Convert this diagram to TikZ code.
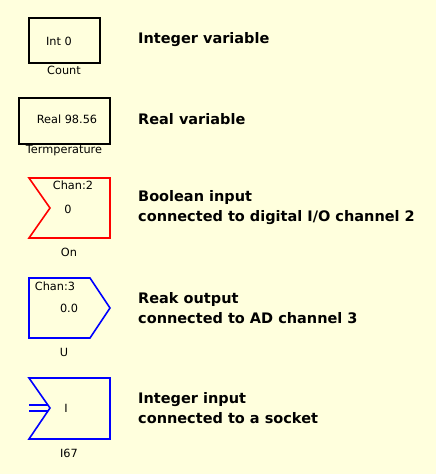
\documentclass[tikz,border=0pt]{standalone}
\usepackage{fontspec}
\setmainfont{DejaVu Sans}

\definecolor{bgyellow}{HTML}{FFFFDD}
\definecolor{chanred}{HTML}{FF0000}
\definecolor{chanblue}{HTML}{0000FF}

\begin{document}
\begin{tikzpicture}[x = 1pt, y = -1pt,
	frame/.style = {line width = 1.6pt, line join = miter},
	val/.style = {font = \fontsize{11.3}{13}\selectfont, inner sep = 0pt},
	tag/.style = {font = \fontsize{11.3}{13}\selectfont, inner sep = 0pt},
	desc/.style = {font = \fontsize{14.5}{20}\selectfont\bfseries, anchor = west, align = left, inner sep = 0pt}]

	\fill [bgyellow] (0, 0) rectangle (436, 474);

	% integer variable
	\draw [frame] (29, 18) rectangle (100, 63);
	\node [val] (intval) at (59, 41) {Int 0};
	\node [tag] (intname) at (64, 70) {Count};
	\node [desc] (intdesc) at (138, 40) {Integer variable};

	% real variable
	\draw [frame] (19, 98) rectangle (110, 144);
	\node [val] (realval) at (67, 119) {Real 98.56};
	\node [tag] (realname) at (64, 151) {Termperature};
	\node [desc] (realdesc) at (138, 119) {Real variable};

	% boolean input
	\draw [frame, chanred] (29, 178) -- (110, 178) -- (110, 238) -- (29, 238) -- (50, 208) -- cycle;
	\node [val] (boolchan) at (73, 185) {Chan:2};
	\node [val] (boolval) at (68, 209) {0};
	\node [tag] (boolname) at (69, 252) {On};
	\node [desc] (booldesc) at (138, 208) {Boolean input\\connected to digital I/O channel 2};

	% real output
	\draw [frame, chanblue] (29, 278) -- (90, 278) -- (110, 308) -- (90, 338) -- (29, 338) -- cycle;
	\node [val] (outchan) at (55, 286) {Chan:3};
	\node [val] (outval) at (69, 308) {0.0};
	\node [tag] (outname) at (64, 352) {U};
	\node [desc] (outdesc) at (138, 308) {Reak output\\connected to AD channel 3};

	% integer input
	\begin{scope}[chanblue]
		\draw [frame] (29, 378) -- (110, 378) -- (110, 439) -- (29, 439) -- (50, 408) -- cycle;
		\draw [line width = 1.3pt] (29, 405) -- (48, 405);
		\draw [line width = 1.3pt] (29, 411) -- (48, 411);
	\end{scope}
	\node [val] (sockval) at (66, 408) {I};
	\node [tag] (sockname) at (69, 453) {I67};
	\node [desc] (sockdesc) at (138, 408) {Integer input\\connected to a socket};

\end{tikzpicture}
\end{document}
